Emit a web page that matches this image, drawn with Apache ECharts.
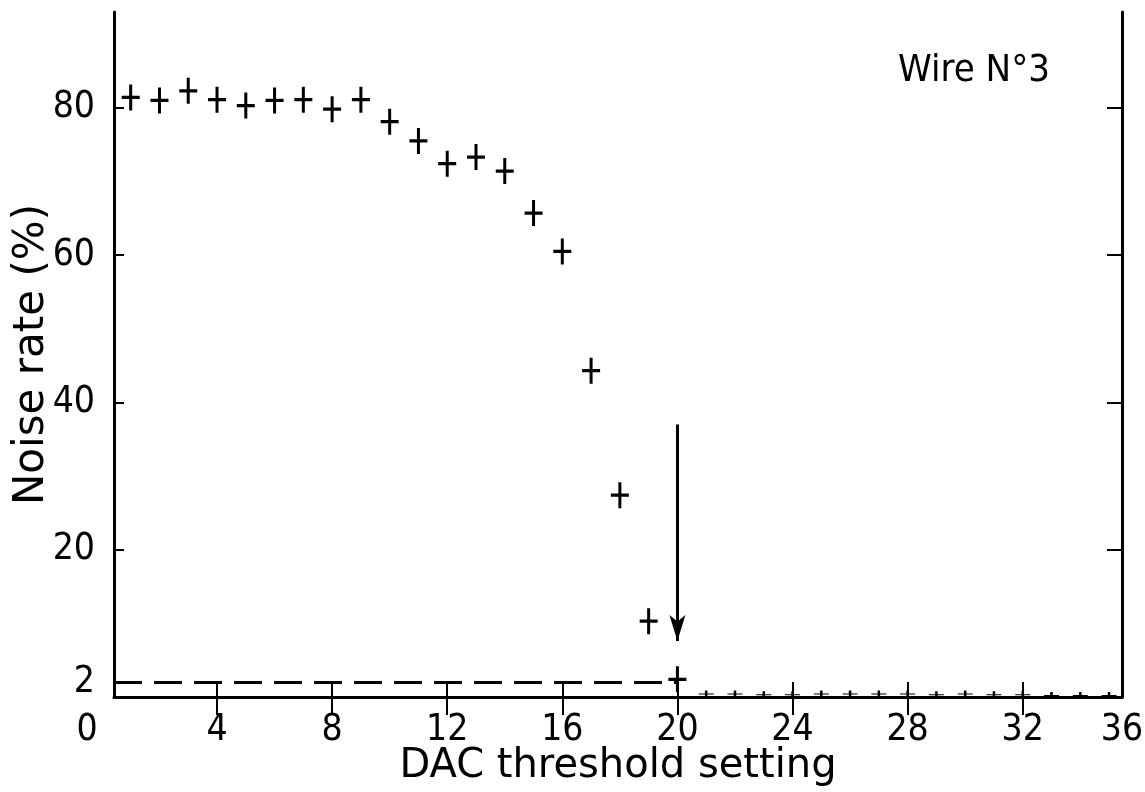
<!DOCTYPE html>
<html>
<head>
<meta charset="utf-8">
<title>Noise rate vs DAC threshold</title>
<script src="https://cdn.jsdelivr.net/npm/echarts@6/dist/echarts.min.js"></script>
<style>
    html, body { margin: 0; padding: 0; background: #fff; }
    #chart { width: 1145px; height: 792px; }
</style>
</head>
<body>
<div id="chart"></div>
<script>
// data
var dacSetting = [1, 2, 3, 4, 5, 6, 7, 8, 9, 10, 11, 12, 13, 14, 15, 16, 17, 18, 19, 20];
var noiseRate = [81.4, 81.0, 82.3, 81.1, 80.3, 81.0, 81.1, 79.8, 81.1, 78.1,
    75.5, 72.4, 73.3, 71.4, 65.7, 60.5, 44.3, 27.4, 10.3, 2.4];
var tailSetting = [21, 22, 23, 24, 25, 26, 27, 28, 29, 30, 31, 32, 33, 34, 35];
var tailRate = [0.4, 0.4, 0.3, 0.3, 0.4, 0.4, 0.4, 0.4, 0.3, 0.4, 0.3, 0.3, 0.2, 0.2, 0.2];

// axes
var xExtent = [0.42, 35.45];
var yExtent = [0, 93];
var xTicks = [4, 8, 12, 16, 20, 24, 28, 32];
var yTicks = [20, 40, 60, 80];
var yLabels = [2, 20, 40, 60, 80];

// threshold marks
var cutLevel = 2;
var cutSetting = 20;
var arrowFrom = 37;
var arrowTo = 7.6;

var plus = 'path://M7.5,0h3v10.5h7.5v3h-7.5v10.5h-3v-10.5h-7.5v-3h7.5z';
var numFont = '"Liberation Sans Narrow", "DejaVu Sans Condensed", sans-serif';
var nameFont = '"DejaVu Sans", sans-serif';

var points = dacSetting.map(function (x, i) { return [x, noiseRate[i]]; });
var tail = tailSetting.map(function (x, i) { return [x, tailRate[i]]; });

var chart = echarts.init(document.getElementById('chart'));

chart.setOption({
    backgroundColor: '#fff',
    animation: false,
    title: {
        text: 'Wire N°3',
        left: 893,
        top: 47,
        textStyle: {
            fontFamily: '"DejaVu Sans Condensed", sans-serif',
            fontSize: 38,
            fontWeight: 'normal',
            color: '#000'
        }
    },
    grid: { left: 114, right: 23, top: 12, bottom: 95, outerBoundsMode: 'none' },
    xAxis: [
        {
            type: 'value',
            position: 'bottom',
            min: xExtent[0],
            max: xExtent[1],
            name: 'DAC threshold setting',
            nameLocation: 'middle',
            nameGap: 50,
            nameMoveOverlap: false,
            nameTextStyle: { fontFamily: nameFont, fontSize: 40, color: '#000' },
            splitLine: { show: false },
            axisLine: { lineStyle: { color: '#000', width: 3 } },
            axisTick: {
                inside: true,
                length: 15,
                customValues: xTicks,
                lineStyle: { color: '#000', width: 2 }
            },
            axisLabel: {
                customValues: [xExtent[0]].concat(xTicks, [xExtent[1]]),
                margin: 15,
                fontFamily: numFont,
                fontSize: 37,
                color: '#000',
                hideOverlap: false,
                formatter: function (v) {
                    if (v < 1) return '{o|0}';
                    if (v > 35) return '36';
                    return String(v);
                },
                rich: {
                    o: { fontFamily: numFont, fontSize: 37, color: '#000', padding: [0, 54, 0, 0] }
                }
            }
        },
        {
            type: 'value',
            position: 'top',
            min: xExtent[0],
            max: xExtent[1],
            splitLine: { show: false },
            axisLine: { lineStyle: { color: '#000', width: 2 } },
            axisTick: {
                inside: true,
                length: 18,
                customValues: xTicks,
                lineStyle: { color: '#000', width: 2 }
            },
            axisLabel: { show: false }
        }
    ],
    yAxis: [
        {
            type: 'value',
            position: 'left',
            min: yExtent[0],
            max: yExtent[1],
            name: 'Noise rate (%)',
            nameLocation: 'middle',
            nameGap: 61,
            nameMoveOverlap: false,
            nameTextStyle: { fontFamily: nameFont, fontSize: 42, color: '#000' },
            splitLine: { show: false },
            axisLine: { lineStyle: { color: '#000', width: 3 } },
            axisTick: {
                inside: true,
                length: 10,
                customValues: yTicks,
                lineStyle: { color: '#000', width: 2 }
            },
            axisLabel: {
                customValues: yLabels,
                margin: 19,
                fontFamily: numFont,
                fontSize: 37,
                color: '#000'
            }
        },
        {
            type: 'value',
            position: 'right',
            min: yExtent[0],
            max: yExtent[1],
            splitLine: { show: false },
            axisLine: { lineStyle: { color: '#000', width: 3 } },
            axisTick: {
                inside: true,
                length: 15,
                customValues: yTicks,
                lineStyle: { color: '#000', width: 2 }
            },
            axisLabel: { show: false }
        }
    ],
    series: [
        {
            name: 'Noise rate',
            type: 'scatter',
            symbol: plus,
            symbolSize: [18, 26],
            itemStyle: { color: '#000', opacity: 1 },
            data: points,
            markLine: {
                silent: true,
                symbol: 'none',
                label: { show: false },
                lineStyle: { color: '#000', width: 3, type: [28, 12] },
                data: [
                    [{ coord: [xExtent[0], cutLevel] }, { coord: [cutSetting, cutLevel] }]
                ]
            },
            z: 3
        },
        {
            name: 'Threshold',
            type: 'scatter',
            symbolSize: 0,
            data: [],
            markLine: {
                silent: true,
                symbol: ['none', 'arrow'],
                symbolSize: [12, 26],
                label: { show: false },
                lineStyle: { color: '#000', width: 3, type: 'solid' },
                data: [
                    [{ coord: [cutSetting, arrowFrom] }, { coord: [cutSetting, arrowTo] }]
                ]
            }
        },
        {
            name: 'Tail',
            type: 'scatter',
            symbol: plus,
            symbolSize: [15, 7],
            itemStyle: { color: '#000', opacity: 1 },
            data: tail
        }
    ]
});
</script>
</body>
</html>
